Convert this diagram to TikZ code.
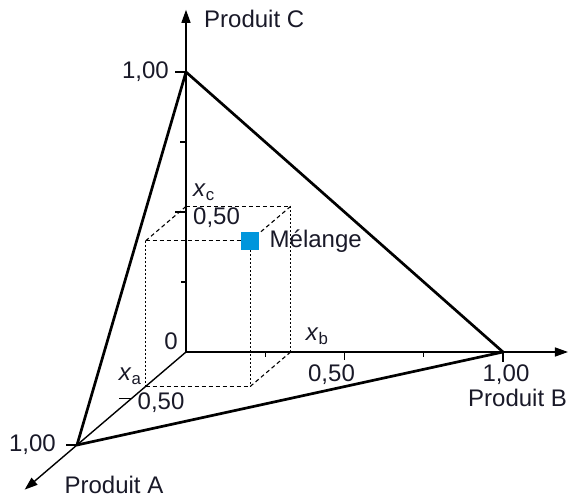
\documentclass[tikz,border=0pt]{standalone}
\usepackage{fontspec}
\setsansfont{Liberation Sans}
\usetikzlibrary{arrows.meta,positioning}
\definecolor{melblue}{RGB}{0,150,220}
\definecolor{txtgray}{RGB}{25,25,40}

\begin{document}
\begin{tikzpicture}[
    font=\fontsize{24}{28}\selectfont\sffamily,
    x={(317pt,0pt)}, y={(0pt,280pt)}, z={(-109pt,-93pt)},
    % axes: thin line, filled triangular head
    axe/.style={line width=1.4pt, -{Triangle[length=13pt,width=9pt]}},
    % the triangle of pure products
    tri/.style={line width=2.7pt, line join=round},
    % projections of the mixture point
    proj/.style={line width=1.1pt, dash pattern=on 4pt off 3pt},
    vert/.style={line width=1.1pt, dash pattern=on 2pt off 2pt},
    tk/.style={line width=1.2pt},
    lab/.style={inner sep=1pt, text=txtgray},
    mix/.style={fill=melblue, minimum size=18pt, inner sep=0pt}
  ]
\useasboundingbox (-186pt,-149pt) rectangle (382pt,352pt);

% --- origin, pure products, axis ends ---
\coordinate (O) at (0,0,0);
\coordinate (B) at (1,0,0);
\coordinate (C) at (0,1,0);
\coordinate (A) at (0,0,1);
\coordinate (Bend) at (1.205,0,0);
\coordinate (Cend) at (0,1.222,0);
\coordinate (Aend) at (0,0,1.48);

% --- graduations ---
\coordinate (b025) at (0.25,0,0);
\coordinate (b050) at (0.5,0,0);
\coordinate (b075) at (0.75,0,0);
\coordinate (c025) at (0,0.25,0);
\coordinate (c050) at (0,0.5,0);
\coordinate (c075) at (0,0.75,0);
\coordinate (a050) at (0,0,0.5);

% --- box round the mixture point ---
\coordinate (p)   at (0.33,0.52,0.37);
\coordinate (pa)  at (0,0,0.37);
\coordinate (pab) at (0.33,0,0.37);
\coordinate (pb)  at (0.33,0,0);
\coordinate (pbc) at (0.33,0.52,0);
\coordinate (pc)  at (0,0.52,0);
\coordinate (pac) at (0,0.52,0.37);

% --- axes ---
\draw[axe] (O) -- (Cend);
\draw[axe] (O) -- (Bend);
\draw[axe] (O) -- (Aend);

% --- ticks ---
\draw[tk] (C) -- ++(-11pt,0);
\draw[tk] (c050) -- ++(-11pt,0);
\draw[tk] (c025) -- ++(-5pt,0);
\draw[tk] (c075) -- ++(-6pt,0);
\draw[tk] (B) -- ++(0,-10pt);
\draw[tk] (b050) -- ++(0,-8pt);
\draw[tk] (b025) -- ++(0,-5pt);
\draw[tk] (b075) -- ++(0,-5pt);
\draw[tk] (A) -- ++(-11pt,0);
\draw[tk] (a050) -- ++(-12pt,0);

% --- triangle A B C ---
\draw[tri] (A) -- (B) -- (C) -- cycle;

% --- projections ---
\node[mix] (mel) at (p) {};
\draw[proj] (pac) -- (mel);
\draw[proj] (pac) -- (pc);
\draw[proj] (pc) -- (pbc);
\draw[proj] (pbc) -- (mel);
\draw[proj] (pa) -- (pab);
\draw[proj] (pab) -- (pb);
\draw[vert] (pac) -- (pa);
\draw[vert] (pbc) -- (pb);
\draw[vert] (mel) -- (pab);

% --- labels ---
\node[lab, right=17pt of Cend, yshift=-9pt] (prodC) {Produit C};
\node[lab, left=16pt of C] (c1lab) {1,00};
\node[lab, right=6pt of c050, yshift=-6pt] (c05lab) {0,50};
\node[lab, above right=5pt and 6pt of pc] (xc) {\textit{x}\textsubscript{c}};
\node[lab, right=9pt of mel] (mellab) {Mélange};
\node[lab, above left=1pt and 7pt of O] (zero) {0};
\node[lab, above right=6pt and 14pt of pb] (xb) {\textit{x}\textsubscript{b}};
\node[lab, below=12pt of b050, xshift=-13pt] (b05lab) {0,50};
\node[lab, below=12pt of B, xshift=3pt] (b1lab) {1,00};
\node[lab, anchor=north west] (prodB) at ([shift={(-36pt,-36pt)}]B) {Produit B};
\node[lab, above left=1pt and 3pt of pa] (xa) {\textit{x}\textsubscript{a}};
\node[lab, right=5pt of a050, yshift=-4pt] (a05lab) {0,50};
\node[lab, left=20pt of A] (a1lab) {1,00};
\node[lab, below=30pt of A, xshift=37pt] (prodA) {Produit A};
\end{tikzpicture}
\end{document}
